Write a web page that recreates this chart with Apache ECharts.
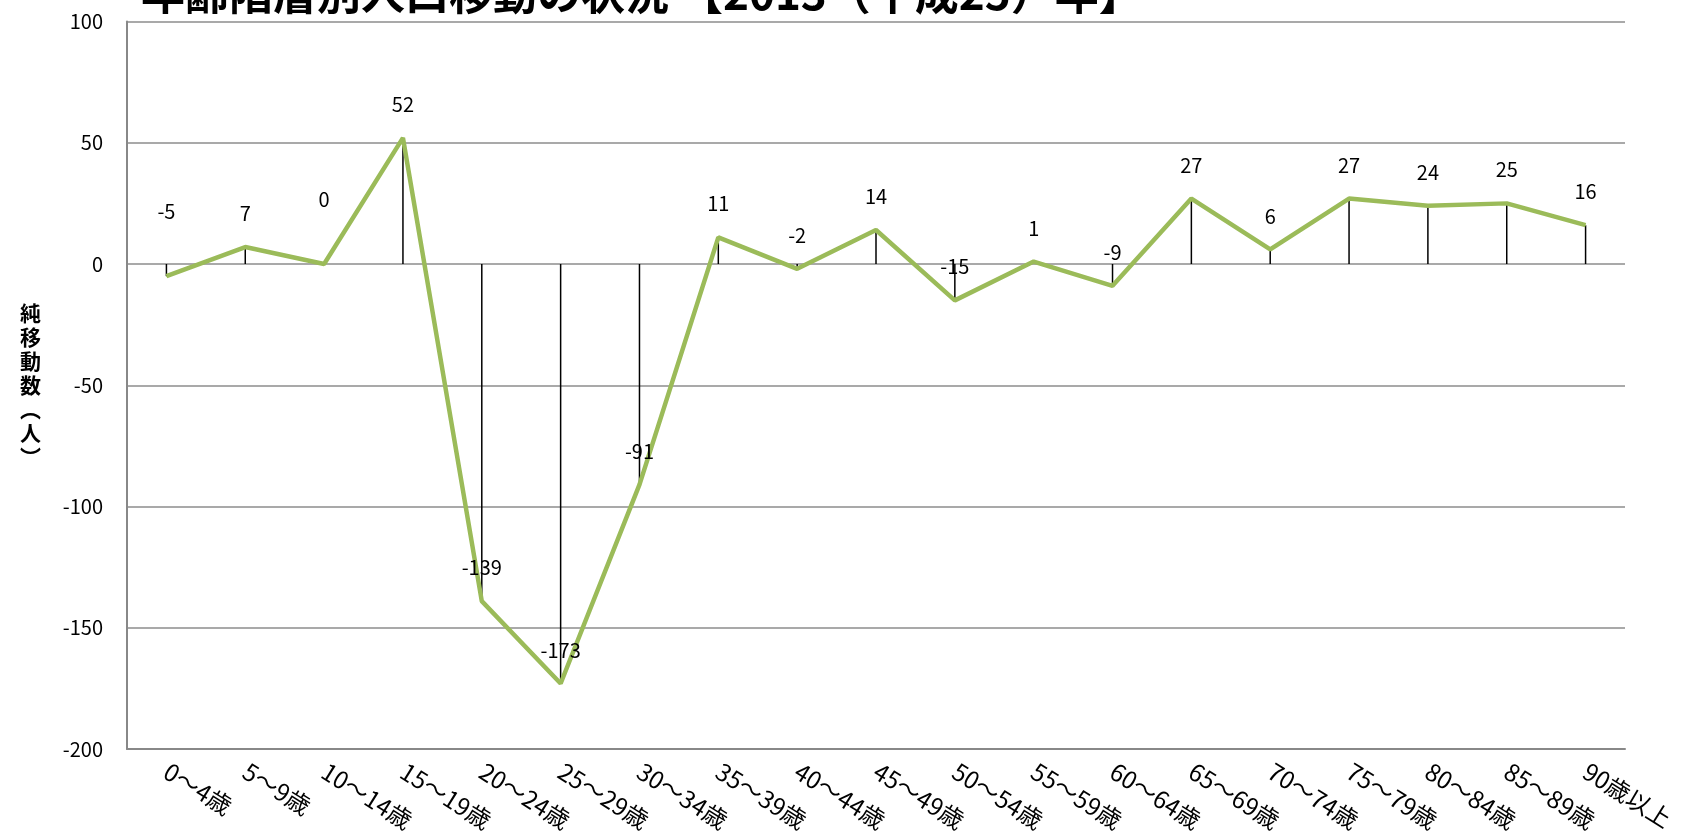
<!DOCTYPE html>
<html>
<head>
<meta charset="utf-8">
<script src="https://cdn.jsdelivr.net/npm/echarts@6/dist/echarts.min.js"></script>
<style>
  html, body { margin: 0; padding: 0; background: #fff; }
  #chart { width: 1687px; height: 836px; }
</style>
</head>
<body>
<div id="chart"></div>
<script>
// 年齢階層
const ageGroups = ['0～4歳', '5～9歳', '10～14歳', '15～19歳', '20～24歳', '25～29歳', '30～34歳',
  '35～39歳', '40～44歳', '45～49歳', '50～54歳', '55～59歳', '60～64歳', '65～69歳',
  '70～74歳', '75～79歳', '80～84歳', '85～89歳', '90歳以上']
// 純移動数（人）
const netMigration = [-5, 7, 0, 52, -139, -173, -91, 11, -2, 14, -15, 1, -9, 27, 6, 27, 24, 25, 16]
const yTicks = { min: -200, max: 100, interval: 50 }

const font = '"Noto Sans CJK JP", "Noto Sans", sans-serif'
// ラベルを上にずらす項目（重なり回避）
const raisedLabels = [0, 2]

const chart = echarts.init(document.getElementById('chart'))

const option = {
  animation: false,
  textStyle: { fontFamily: font },
  title: {
    text: '年齢階層別人口移動の状況 【2013（平成25）年】',
    left: 136,
    top: -34,
    textStyle: { fontSize: 44, fontWeight: 'bold', color: '#000', fontFamily: font }
  },
  grid: { left: 127, right: 62, top: 21.5, bottom: 87 },
  xAxis: {
    type: 'category',
    data: ageGroups,
    boundaryGap: true,
    axisLine: { show: true, onZero: false, lineStyle: { color: '#888', width: 2 } },
    axisTick: { show: false },
    axisLabel: {
      rotate: -32,
      interval: 0,
      margin: 20,
      fontSize: 24,
      color: '#000',
      fontFamily: font
    }
  },
  yAxis: {
    type: 'value',
    min: yTicks.min,
    max: yTicks.max,
    interval: yTicks.interval,
    name: '純\n移\n動\n数\n︵\n人\n︶',
    nameLocation: 'middle',
    nameRotate: 0,
    nameGap: 86,
    nameTextStyle: { fontSize: 21, fontWeight: 'bold', lineHeight: 24, color: '#000', fontFamily: font },
    axisLine: { show: true, lineStyle: { color: '#888', width: 2 } },
    axisTick: { show: false },
    axisLabel: { fontSize: 20, color: '#000', margin: 24, fontFamily: font },
    splitLine: { lineStyle: { color: '#8c8c8c', width: 1.5 } }
  },
  series: [
    {
      // 降下線
      type: 'bar',
      data: netMigration,
      barWidth: 1.5,
      itemStyle: { color: '#000' },
      silent: true,
      z: 1
    },
    {
      type: 'line',
      data: netMigration.map((v, i) => raisedLabels.includes(i)
        ? { value: v, label: { distance: 54 } }
        : v),
      symbol: 'circle',
      symbolSize: 1,
      itemStyle: { color: '#9BBB59' },
      lineStyle: { color: '#9BBB59', width: 4.5 },
      z: 3,
      label: {
        show: true,
        position: 'top',
        distance: 23,
        fontSize: 20,
        color: '#000',
        fontFamily: font
      }
    }
  ]
}

chart.setOption(option)
</script>
</body>
</html>
